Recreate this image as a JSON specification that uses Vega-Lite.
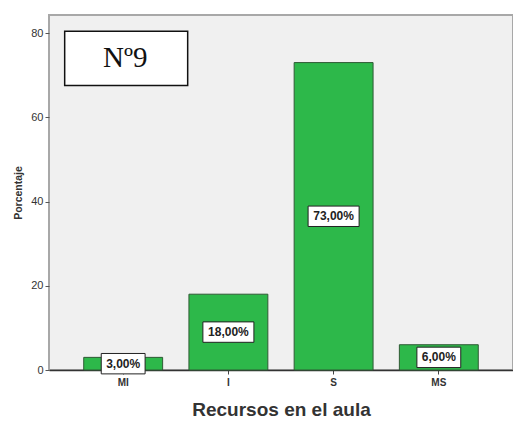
{
  "$schema": "https://vega.github.io/schema/vega-lite/v6.json",
  "width": 464,
  "height": 355,
  "autosize": {"type": "none"},
  "padding": {"left": 49, "top": 15, "right": 0, "bottom": 51},
  "background": "white",
  "config": {
    "font": "Liberation Sans",
    "view": {"fill": "#f0f0f0", "stroke": "#a8a8a8", "strokeWidth": 2}
  },
  "datasets": {
    "bars": [
      {"cat": "MI", "pct": 3, "label": "3,00%"},
      {"cat": "I", "pct": 18, "label": "18,00%"},
      {"cat": "S", "pct": 73, "label": "73,00%"},
      {"cat": "MS", "pct": 6, "label": "6,00%"}
    ],
    "note": [{"cat": "MI", "y": 74, "label": "Nº9"}]
  },
  "resolve": {"scale": {"y": "independent"}},
  "layer": [
    {
      "data": {"name": "bars"},
      "mark": {"type": "bar", "fill": "#2db84a", "stroke": "#2f5a35", "strokeWidth": 1},
      "encoding": {
        "x": {
          "field": "cat", "type": "nominal",
          "scale": {"domain": ["MI", "I", "S", "MS"], "paddingInner": 0.25, "paddingOuter": 0.33},
          "axis": {
            "title": "Recursos en el aula", "titleFontSize": 19, "titleFontWeight": "bold", "titleColor": "#333", "titlePadding": 13,
            "labelAngle": 0, "labelFontSize": 10, "labelFontWeight": "bold", "labelColor": "#333", "labelPadding": 3,
            "tickSize": 4, "tickColor": "#444", "domainColor": "#333", "domainWidth": 1.5, "grid": false
          }
        },
        "y": {
          "field": "pct", "type": "quantitative",
          "scale": {"domain": [0, 84.3], "nice": false},
          "axis": {
            "title": "Porcentaje", "titleFontSize": 10.5, "titleFontWeight": "bold", "titleColor": "#333", "titlePadding": 7,
            "values": [0, 20, 40, 60, 80], "labelFontSize": 11, "labelColor": "#333", "labelPadding": 2,
            "tickSize": 4, "tickColor": "#555", "domain": false, "grid": false
          }
        }
      }
    },
    {
      "data": {"name": "note"},
      "mark": {"type": "point", "filled": false, "fill": "white", "fillOpacity": 1, "stroke": "#111", "strokeWidth": 1.5, "opacity": 1, "size": 15129, "shape": "M-1,-0.44L1,-0.44L1,0.44L-1,0.44Z", "xOffset": 3},
      "encoding": {
        "x": {"field": "cat", "type": "nominal", "scale": {"domain": ["MI", "I", "S", "MS"]}},
        "y": {"field": "y", "type": "quantitative", "scale": {"domain": [0, 84.3], "nice": false}, "axis": null}
      }
    },
    {
      "data": {"name": "note"},
      "mark": {"type": "text", "font": "Liberation Serif", "fontSize": 29, "color": "#111", "baseline": "middle", "align": "center", "dx": 2},
      "encoding": {
        "x": {"field": "cat", "type": "nominal", "scale": {"domain": ["MI", "I", "S", "MS"]}},
        "y": {"field": "y", "type": "quantitative", "scale": {"domain": [0, 84.3], "nice": false}, "axis": null},
        "text": {"field": "label"}
      }
    },
    {
      "data": {"name": "bars"},
      "mark": {"type": "point", "filled": false, "fill": "white", "fillOpacity": 1, "stroke": "#222", "strokeWidth": 1, "opacity": 1, "size": 2601},
      "encoding": {
        "x": {"field": "cat", "type": "nominal", "scale": {"domain": ["MI", "I", "S", "MS"]}},
        "y": {"field": "pct", "type": "quantitative", "scale": {"domain": [0, 168.6], "nice": false}, "axis": null},
        "shape": {
          "condition": {"test": "datum.pct >= 10", "value": "M-1,-0.4L1,-0.4L1,0.4L-1,0.4Z"},
          "value": "M-0.86,-0.4L0.86,-0.4L0.86,0.4L-0.86,0.4Z"
        }
      }
    },
    {
      "data": {"name": "bars"},
      "mark": {"type": "text", "fontSize": 12, "fontWeight": "bold", "color": "#222", "baseline": "middle", "align": "center", "letterSpacing": 0.3},
      "encoding": {
        "x": {"field": "cat", "type": "nominal", "scale": {"domain": ["MI", "I", "S", "MS"]}},
        "y": {"field": "pct", "type": "quantitative", "scale": {"domain": [0, 168.6], "nice": false}, "axis": null},
        "text": {"field": "label"}
      }
    }
  ]
}
